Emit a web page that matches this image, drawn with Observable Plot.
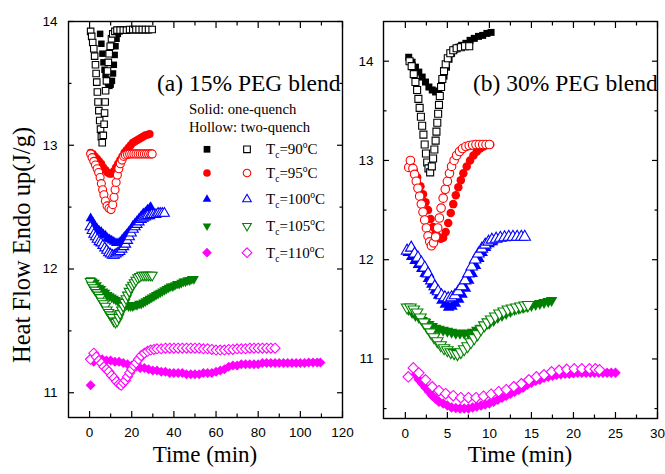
<!DOCTYPE html>
<html><head><meta charset="utf-8">
<script src="https://cdn.jsdelivr.net/npm/d3@7"></script>
<script src="https://cdn.jsdelivr.net/npm/@observablehq/plot@0.6"></script>
<style>
html,body{margin:0;padding:0;background:#fff;}
#root{position:relative;width:665px;height:474px;overflow:hidden;background:#fff;}
#root svg{position:absolute;top:0;}
</style></head><body><div id="root"></div>
<script>
// ---------- data ----------
const tempLabels = ["90", "95", "100", "105", "110"];
const colors = ["#000000", "#ff0000", "#0000ff", "#008000", "#ff00ff"];

// Panel (a) 15% PEG blend — solid: one-quench, hollow: two-quench  [time (min), heat flow (J/g)]
const a90s = [[5,13.9],[5.6,13.82],[6.1,13.74],[6.6,13.67],[7.1,13.61],[7.6,13.57],[8.2,13.53],[8.8,13.5],[9.4,13.48],[10,13.49],[10.6,13.52],[11.1,13.58],[11.5,13.65],[11.9,13.73],[12.3,13.8],[12.8,13.86],[13.4,13.9],[14.2,13.92],[15.2,13.925],[16.5,13.93],[18,13.93],[19.5,13.93],[21,13.93],[22.5,13.93],[24,13.93],[25.5,13.93],[27,13.93],[28,13.93]];
const a90h = [[0.5,13.92],[1,13.88],[1.5,13.83],[2,13.78],[2.4,13.72],[2.8,13.65],[3.1,13.58],[3.4,13.51],[3.7,13.43],[4,13.35],[4.4,13.28],[4.8,13.2],[5.2,13.13],[5.6,13.07],[6,13.02],[6.5,13.08],[6.9,13.17],[7.1,13.26],[7.4,13.35],[7.6,13.44],[8,13.52],[8.5,13.6],[8.9,13.67],[9.3,13.74],[9.8,13.8],[10.4,13.86],[11,13.9],[12,13.92],[13,13.93],[14.5,13.93],[16,13.93],[17.5,13.93],[19,13.935],[20.5,13.935],[22,13.935],[23.5,13.935],[25,13.935],[26.5,13.935],[28,13.935],[29.7,13.935]];
const a95s = [[0.5,12.94],[1.5,12.93],[2.5,12.91],[3.5,12.89],[4.5,12.87],[5.5,12.85],[6.5,12.82],[7.5,12.8],[8.5,12.78],[9.5,12.77],[10.5,12.77],[11.5,12.79],[12.5,12.82],[13.5,12.85],[14.5,12.88],[15.5,12.91],[16.5,12.94],[17.5,12.96],[18.5,12.98],[19.5,13.0],[20.5,13.02],[21.5,13.03],[22.5,13.04],[23.5,13.05],[24.5,13.06],[25.5,13.07],[26.5,13.08],[27.5,13.085],[28.5,13.09]];
const a95h = [[0.5,12.93],[1.2,12.9],[2,12.87],[2.8,12.84],[3.6,12.81],[4.3,12.78],[5,12.74],[5.6,12.69],[6.2,12.64],[6.8,12.6],[7.5,12.55],[8.3,12.51],[9.2,12.49],[10.2,12.48],[11,12.52],[11.6,12.58],[12.1,12.64],[12.6,12.7],[13.2,12.76],[13.9,12.81],[14.6,12.85],[15.4,12.88],[16.2,12.91],[17,12.92],[18,12.925],[19,12.93],[20,12.93],[21,12.93],[22,12.93],[23,12.93],[24,12.93],[25,12.93],[26,12.93],[27,12.93],[28,12.93],[29,12.93],[29.7,12.93]];
const a100s = [[0.5,12.41],[1.5,12.38],[2.5,12.35],[3.5,12.33],[4.5,12.31],[5.5,12.3],[6.5,12.28],[7.5,12.27],[8.5,12.25],[9.5,12.24],[10.5,12.23],[11.5,12.22],[12.5,12.21],[13.5,12.21],[14.5,12.22],[15.5,12.24],[16.5,12.26],[17.5,12.28],[18.5,12.3],[19.5,12.32],[20.5,12.35],[21.5,12.37],[22.5,12.39],[23.5,12.41],[24.5,12.43],[25.5,12.45],[26.5,12.46],[27.5,12.48],[28.5,12.49],[29,12.5]];
const a100h = [[0.3,12.34],[1.2,12.31],[2,12.28],[2.8,12.26],[3.6,12.24],[4.5,12.22],[5.4,12.21],[6.3,12.19],[7.2,12.17],[8.1,12.15],[9,12.13],[9.9,12.12],[10.8,12.11],[11.7,12.11],[12.6,12.12],[13.5,12.13],[14.4,12.14],[15.3,12.16],[16.2,12.18],[17.1,12.2],[18,12.23],[18.9,12.26],[19.8,12.29],[20.7,12.32],[21.6,12.34],[22.5,12.36],[23.5,12.38],[24.5,12.4],[25.5,12.41],[26.5,12.42],[27.5,12.43],[28.5,12.43],[29.5,12.44],[30.5,12.44],[31.5,12.44],[32.5,12.45],[33.5,12.45],[34.5,12.45],[35.5,12.45]];
const a105s = [[0.5,11.91],[1.5,11.9],[2.5,11.89],[3.5,11.87],[4.5,11.85],[5.5,11.84],[6.5,11.82],[7.5,11.81],[8.5,11.79],[9.5,11.78],[10.5,11.77],[11.5,11.76],[12.5,11.75],[13.5,11.74],[14.5,11.73],[15.5,11.72],[16.5,11.71],[17.5,11.71],[18.5,11.7],[19.5,11.7],[20.5,11.7],[21.5,11.71],[22.5,11.71],[23.5,11.72],[24.5,11.72],[25.5,11.73],[26.5,11.74],[27.5,11.75],[28.5,11.76],[29.5,11.77],[30.5,11.78],[31.5,11.79],[32.5,11.8],[33.5,11.81],[34.5,11.82],[35.5,11.83],[36.5,11.84],[37.5,11.85],[38.5,11.86],[39.5,11.86],[40.5,11.87],[41.5,11.88],[42.5,11.88],[43.5,11.89],[44.5,11.9],[45.5,11.9],[46.5,11.91],[47.5,11.91],[48.5,11.92],[49.5,11.92]];
const a105h = [[0.3,11.9],[1.1,11.87],[1.9,11.85],[2.7,11.83],[3.5,11.81],[4.3,11.79],[5.1,11.77],[5.9,11.74],[6.7,11.72],[7.5,11.7],[8.3,11.67],[9.1,11.65],[9.9,11.63],[10.7,11.61],[11.5,11.58],[12.3,11.57],[13.1,11.58],[13.8,11.61],[14.5,11.64],[15.2,11.67],[15.9,11.7],[16.6,11.73],[17.3,11.76],[18,11.79],[18.8,11.82],[19.6,11.85],[20.4,11.87],[21.2,11.89],[22,11.91],[22.9,11.93],[23.8,11.94],[24.8,11.95],[25.8,11.95],[26.8,11.95],[27.8,11.95],[28.8,11.95],[29.7,11.95]];
const a110s = [[0.5,11.06],[2,11.25],[4,11.27],[6,11.27],[8,11.26],[10,11.26],[12,11.25],[14,11.25],[16,11.24],[18,11.23],[20,11.22],[22,11.21],[24,11.2],[26,11.2],[28,11.19],[30,11.18],[32,11.18],[34,11.17],[36,11.17],[38,11.16],[40,11.16],[42,11.16],[44,11.16],[46,11.15],[48,11.15],[50,11.15],[52,11.15],[54,11.16],[56,11.16],[58,11.16],[60,11.17],[62,11.18],[64,11.19],[66,11.21],[68,11.22],[70,11.22],[72,11.23],[74,11.23],[76,11.23],[78,11.23],[80,11.23],[82,11.24],[84,11.24],[86,11.24],[88,11.24],[90,11.24],[92,11.24],[94,11.24],[96,11.24],[98,11.24],[100,11.24],[102,11.24],[104,11.245],[106,11.245],[108,11.245],[109.5,11.245]];
const a110h = [[0.4,11.27],[2,11.32],[3.2,11.29],[4.4,11.26],[5.6,11.24],[6.8,11.21],[8,11.19],[9.2,11.17],[10.4,11.14],[11.6,11.12],[12.8,11.09],[14,11.07],[15,11.06],[16,11.08],[17,11.1],[18,11.13],[19,11.16],[20,11.19],[21,11.22],[22,11.24],[23.2,11.27],[24.5,11.3],[26,11.32],[27.5,11.335],[29,11.345],[30.5,11.35],[32,11.355],[34,11.355],[36,11.36],[38,11.36],[40,11.36],[42,11.36],[44,11.36],[46,11.36],[48,11.36],[50,11.36],[52,11.36],[54,11.355],[56,11.355],[58,11.35],[60,11.345],[62,11.345],[64,11.345],[66,11.35],[68,11.35],[70,11.355],[72,11.355],[74,11.355],[76,11.36],[78,11.36],[80,11.36],[82,11.36],[84,11.36],[86,11.36],[88,11.36]];

// Panel (b) 30% PEG blend
const b90s = [[0.4,14.04],[0.8,13.99],[1.2,13.94],[1.6,13.89],[2,13.84],[2.4,13.79],[2.8,13.74],[3.2,13.71],[3.6,13.69],[4,13.7],[4.3,13.76],[4.6,13.85],[4.9,13.94],[5.2,14.02],[5.5,14.08],[5.9,14.12],[6.3,14.14],[6.7,14.16],[7.2,14.18],[7.7,14.21],[8.2,14.23],[8.7,14.25],[9.2,14.26],[9.7,14.28],[10.2,14.29]];
const b90h = [[0.5,14.0],[0.75,13.95],[1,13.87],[1.2,13.79],[1.4,13.71],[1.55,13.62],[1.7,13.53],[1.85,13.44],[2,13.35],[2.15,13.26],[2.3,13.16],[2.45,13.07],[2.6,12.98],[2.75,12.92],[2.95,12.88],[3.15,12.94],[3.3,13.02],[3.45,13.11],[3.6,13.2],[3.7,13.29],[3.8,13.38],[3.9,13.47],[4.0,13.56],[4.1,13.65],[4.25,13.74],[4.4,13.82],[4.6,13.9],[4.8,13.97],[5.05,14.03],[5.35,14.08],[5.7,14.11],[6.1,14.13],[6.6,14.14],[7.1,14.15],[7.6,14.15]];
const b95s = [[0.6,12.95],[1.0,12.9],[1.4,12.83],[1.8,12.74],[2.1,12.66],[2.4,12.58],[2.7,12.5],[3.0,12.41],[3.3,12.33],[3.6,12.27],[3.9,12.23],[4.2,12.21],[4.5,12.22],[4.8,12.28],[5.1,12.37],[5.4,12.47],[5.7,12.56],[6,12.65],[6.3,12.73],[6.6,12.8],[6.9,12.87],[7.3,12.94],[7.7,13.0],[8.1,13.05],[8.5,13.09],[8.9,13.12],[9.3,13.14],[9.7,13.155],[10.1,13.16]];
const b95h = [[0.4,12.93],[0.6,13.0],[0.9,12.92],[1.1,12.86],[1.3,12.79],[1.5,12.72],[1.7,12.64],[1.9,12.56],[2.1,12.48],[2.3,12.4],[2.5,12.32],[2.7,12.24],[2.9,12.18],[3.1,12.14],[3.35,12.17],[3.6,12.23],[3.85,12.32],[4.05,12.42],[4.25,12.52],[4.5,12.62],[4.75,12.71],[5,12.79],[5.25,12.87],[5.5,12.94],[5.8,13.0],[6.1,13.05],[6.45,13.09],[6.8,13.12],[7.2,13.14],[7.6,13.15],[8,13.155],[8.4,13.16],[8.8,13.16],[9.2,13.16],[9.6,13.16],[10,13.16]];
const b100s = [[0.35,12.07],[0.75,12.03],[1.15,11.99],[1.55,11.95],[1.95,11.91],[2.35,11.86],[2.75,11.81],[3.15,11.75],[3.55,11.69],[3.95,11.64],[4.35,11.59],[4.75,11.55],[5.15,11.52],[5.55,11.53],[5.95,11.56],[6.35,11.6],[6.75,11.65],[7.15,11.71],[7.55,11.79],[7.95,11.86],[8.35,11.94],[8.75,12.01],[9.15,12.07],[9.55,12.12],[9.95,12.16],[10.35,12.18]];
const b100h = [[0.2,12.09],[0.7,12.12],[1.1,12.06],[1.5,12.02],[1.9,11.97],[2.3,11.92],[2.7,11.86],[3.1,11.79],[3.5,11.73],[3.9,11.68],[4.3,11.64],[4.7,11.62],[5.1,11.61],[5.5,11.62],[5.9,11.64],[6.3,11.68],[6.7,11.73],[7.1,11.79],[7.5,11.86],[7.9,11.93],[8.3,12.0],[8.7,12.06],[9.1,12.11],[9.5,12.15],[9.9,12.18],[10.3,12.2],[10.8,12.21],[11.3,12.22],[11.8,12.225],[12.3,12.23],[12.8,12.23],[13.3,12.23],[13.8,12.23],[14.2,12.23]];
const b105s = [[0.4,11.5],[0.8,11.47],[1.2,11.44],[1.6,11.42],[2,11.39],[2.4,11.37],[2.8,11.35],[3.2,11.33],[3.6,11.31],[4,11.3],[4.5,11.29],[5,11.28],[5.5,11.27],[6,11.26],[6.5,11.26],[7,11.26],[7.5,11.26],[8,11.27],[8.5,11.29],[9,11.31],[9.5,11.34],[10,11.36],[10.5,11.39],[11,11.42],[11.5,11.44],[12,11.46],[12.5,11.48],[13,11.5],[13.5,11.51],[14,11.52],[14.5,11.53],[15,11.54],[15.5,11.55],[16,11.56],[16.5,11.57],[17,11.58],[17.4,11.59]];
const b105h = [[0.2,11.52],[0.6,11.52],[1.0,11.5],[1.4,11.47],[1.8,11.42],[2.2,11.37],[2.6,11.32],[3,11.27],[3.4,11.22],[3.8,11.18],[4.2,11.14],[4.6,11.11],[5,11.09],[5.4,11.07],[5.8,11.06],[6.2,11.05],[6.6,11.07],[7,11.1],[7.4,11.13],[7.8,11.17],[8.2,11.21],[8.6,11.25],[9,11.3],[9.4,11.34],[9.8,11.37],[10.2,11.4],[10.7,11.43],[11.2,11.46],[11.7,11.48],[12.2,11.5],[12.7,11.51],[13.2,11.52],[13.7,11.53],[14.2,11.54],[14.6,11.545]];
const b110s = [[1.2,10.84],[1.6,10.79],[2,10.75],[2.4,10.71],[2.8,10.67],[3.2,10.63],[3.6,10.6],[4,10.57],[4.5,10.55],[5,10.53],[5.5,10.51],[6,10.505],[6.5,10.5],[7,10.5],[7.5,10.5],[8,10.51],[8.5,10.52],[9,10.53],[9.5,10.54],[10,10.55],[10.5,10.57],[11,10.59],[11.5,10.61],[12,10.63],[12.5,10.65],[13,10.67],[13.5,10.69],[14,10.71],[14.5,10.74],[15,10.76],[15.5,10.78],[16,10.79],[16.5,10.81],[17,10.82],[17.5,10.83],[18,10.84],[18.5,10.845],[19,10.85],[19.5,10.85],[20,10.855],[20.5,10.86],[21,10.86],[21.5,10.86],[22,10.86],[22.5,10.86],[23,10.86],[23.5,10.86],[24,10.86],[24.5,10.86],[25,10.86]];
const b110h = [[0.35,10.82],[0.95,10.91],[1.6,10.86],[2.4,10.79],[3.2,10.72],[4,10.68],[4.8,10.65],[5.7,10.63],[6.6,10.61],[7.5,10.61],[8.4,10.61],[9.3,10.625],[10.2,10.645],[11.1,10.67],[12,10.69],[12.9,10.72],[13.8,10.75],[14.7,10.79],[15.6,10.82],[16.5,10.84],[17.4,10.87],[18.3,10.885],[19.2,10.895],[20.1,10.9],[21,10.9],[21.9,10.9],[22.6,10.9],[23.1,10.89]];

// ticks
const aXMajor = [0, 20, 40, 60, 80, 100, 120];
const aXMinor = [10, 30, 50, 70, 90, 110];
const aYMajor = [11, 12, 13, 14];
const aYMinor = [11.5, 12.5, 13.5];
const bXMajor = [0, 5, 10, 15, 20, 25, 30];
const bXMinor = [2.5, 7.5, 12.5, 17.5, 22.5, 27.5];
const bYMajor = [11, 12, 13, 14];
const bYMinor = [10.5, 11.5, 12.5, 13.5];

// ---------- symbols ----------
const sqrt3 = Math.sqrt(3);
const triangleDown = {
  draw(context, size) {
    const y = -Math.sqrt(size / (sqrt3 * 3));
    context.moveTo(0, -y * 2);
    context.lineTo(-sqrt3 * y, y);
    context.lineTo(sqrt3 * y, y);
    context.closePath();
  }
};
const plotSymbols = ["square", "circle", "triangle", triangleDown, "diamond2"];
const d3Symbols = [d3.symbolSquare, d3.symbolCircle, d3.symbolTriangle, triangleDown, d3.symbolDiamond2];

function panel(cfg) {
  const marks = [];
  cfg.solid.forEach((s, i) => {
    marks.push(Plot.dot(s, {x: d => d[0], y: d => d[1], symbol: plotSymbols[i], r: cfg.r[i], fill: colors[i], stroke: "none"}));
    marks.push(Plot.dot(cfg.hollow[i], {x: d => d[0], y: d => d[1], symbol: plotSymbols[i], r: cfg.r[i], fill: "white", stroke: colors[i], strokeWidth: 1.1}));
  });
  const tk = {fill: "none", strokeWidth: 1.2, label: null};
  marks.push(
    Plot.axisX(cfg.xMajor, {...tk, anchor: "bottom", tickSize: 6, dy: -6}),
    Plot.axisX(cfg.xMinor, {...tk, anchor: "bottom", tickSize: 3.5, dy: -3.5}),
    Plot.axisX(cfg.xMajor, {...tk, anchor: "top", tickSize: 6, dy: 6}),
    Plot.axisX(cfg.xMinor, {...tk, anchor: "top", tickSize: 3.5, dy: 3.5}),
    Plot.axisY(cfg.yMajor, {...tk, anchor: "left", tickSize: 6, dx: 6}),
    Plot.axisY(cfg.yMinor, {...tk, anchor: "left", tickSize: 3.5, dx: 3.5}),
    Plot.axisY(cfg.yMajor, {...tk, anchor: "right", tickSize: 6, dx: -6}),
    Plot.axisY(cfg.yMinor, {...tk, anchor: "right", tickSize: 3.5, dx: -3.5}),
    Plot.axisX(cfg.xMajor, {anchor: "bottom", tickSize: 0, tickPadding: 10, label: null, tickFormat: d => String(d), fill: "black"}),
    Plot.axisY(cfg.yMajor, {anchor: "left", tickSize: 0, tickPadding: cfg.yPad, label: null, tickFormat: d => String(d), fill: "black"}),
    Plot.frame({stroke: "black", strokeWidth: 1.4})
  );
  const svg = Plot.plot({
    width: cfg.width, height: 474,
    marginLeft: cfg.mL, marginRight: cfg.mR, marginTop: 21, marginBottom: cfg.mB,
    x: {domain: cfg.xDomain, axis: null, label: null},
    y: {domain: cfg.yDomain, axis: null, label: null},
    style: {background: "transparent", fontFamily: "'Liberation Sans', Arial, sans-serif", fontSize: "13.5px", color: "black", overflow: "visible"},
    marks
  });
  svg.style.left = cfg.left + "px";
  return svg;
}

const root = document.getElementById("root");
root.appendChild(panel({
  width: 352, left: 0, mL: 68, mR: 10, mB: 57,
  xDomain: [-10, 120], yDomain: [10.8, 14],
  xMajor: aXMajor, xMinor: aXMinor, yMajor: aYMajor, yMinor: aYMinor, yPad: 11,
  solid: [a90s, a95s, a100s, a105s, a110s], hollow: [a90h, a95h, a100h, a105h, a110h],
  r: [3.67, 4, 3.71, 3.71, 4.5]
}));
root.appendChild(panel({
  width: 313, left: 352, mL: 31, mR: 8, mB: 56,
  xDomain: [-2.6, 30], yDomain: [10.4, 14.4],
  xMajor: bXMajor, xMinor: bXMinor, yMajor: bYMajor, yMinor: bYMinor, yPad: 10,
  solid: [b90s, b95s, b100s, b105s, b110s], hollow: [b90h, b95h, b100h, b105h, b110h],
  r: [3.95, 4.25, 4.27, 4.27, 4.73]
}));

// ---------- overlay: titles, axis titles, legend ----------
const serif = "'Liberation Serif', 'Times New Roman', serif";
const ov = d3.select(root).append("svg")
  .attr("width", 665).attr("height", 474)
  .style("left", "0px").style("pointer-events", "none")
  .attr("font-family", serif).attr("fill", "black");

ov.append("text").attr("x", 157).attr("y", 90.5).attr("font-size", 23.5).text("(a) 15% PEG blend");
ov.append("text").attr("x", 473).attr("y", 90.5).attr("font-size", 23.5).text("(b) 30% PEG blend");
ov.append("text").attr("x", 205).attr("y", 462).attr("font-size", 23).attr("text-anchor", "middle").text("Time (min)");
ov.append("text").attr("x", 520).attr("y", 462).attr("font-size", 23).attr("text-anchor", "middle").text("Time (min)");
ov.append("text").attr("transform", "translate(30,245) rotate(-90)").attr("font-size", 24.5).attr("text-anchor", "middle").text("Heat Flow Endo up(J/g)");

ov.append("text").attr("x", 189).attr("y", 114).attr("font-size", 14.7).text("Solid: one-quench");
ov.append("text").attr("x", 189).attr("y", 131.5).attr("font-size", 14.7).text("Hollow: two-quench");

const legRowY = [149.3, 173, 199.3, 226, 252.7];
const legSizes = [45, 45, 32, 32, 60];
tempLabels.forEach((t, i) => {
  const cy = legRowY[i];
  const path = d3.symbol(d3Symbols[i], legSizes[i])();
  ov.append("path").attr("d", path).attr("transform", `translate(207,${cy})`).attr("fill", colors[i]);
  ov.append("path").attr("d", path).attr("transform", `translate(247,${cy})`).attr("fill", "white").attr("stroke", colors[i]).attr("stroke-width", 1.1);
  const tx = ov.append("text").attr("x", 266).attr("y", cy + 5).attr("font-size", 15);
  tx.append("tspan").text("T");
  tx.append("tspan").attr("font-size", 9.5).attr("dy", 4).text("c");
  tx.append("tspan").attr("dy", -4).text("=" + t);
  tx.append("tspan").attr("font-size", 9.5).attr("dy", -6).text("o");
  tx.append("tspan").attr("dy", 6).text("C");
});
</script>
</body></html>
